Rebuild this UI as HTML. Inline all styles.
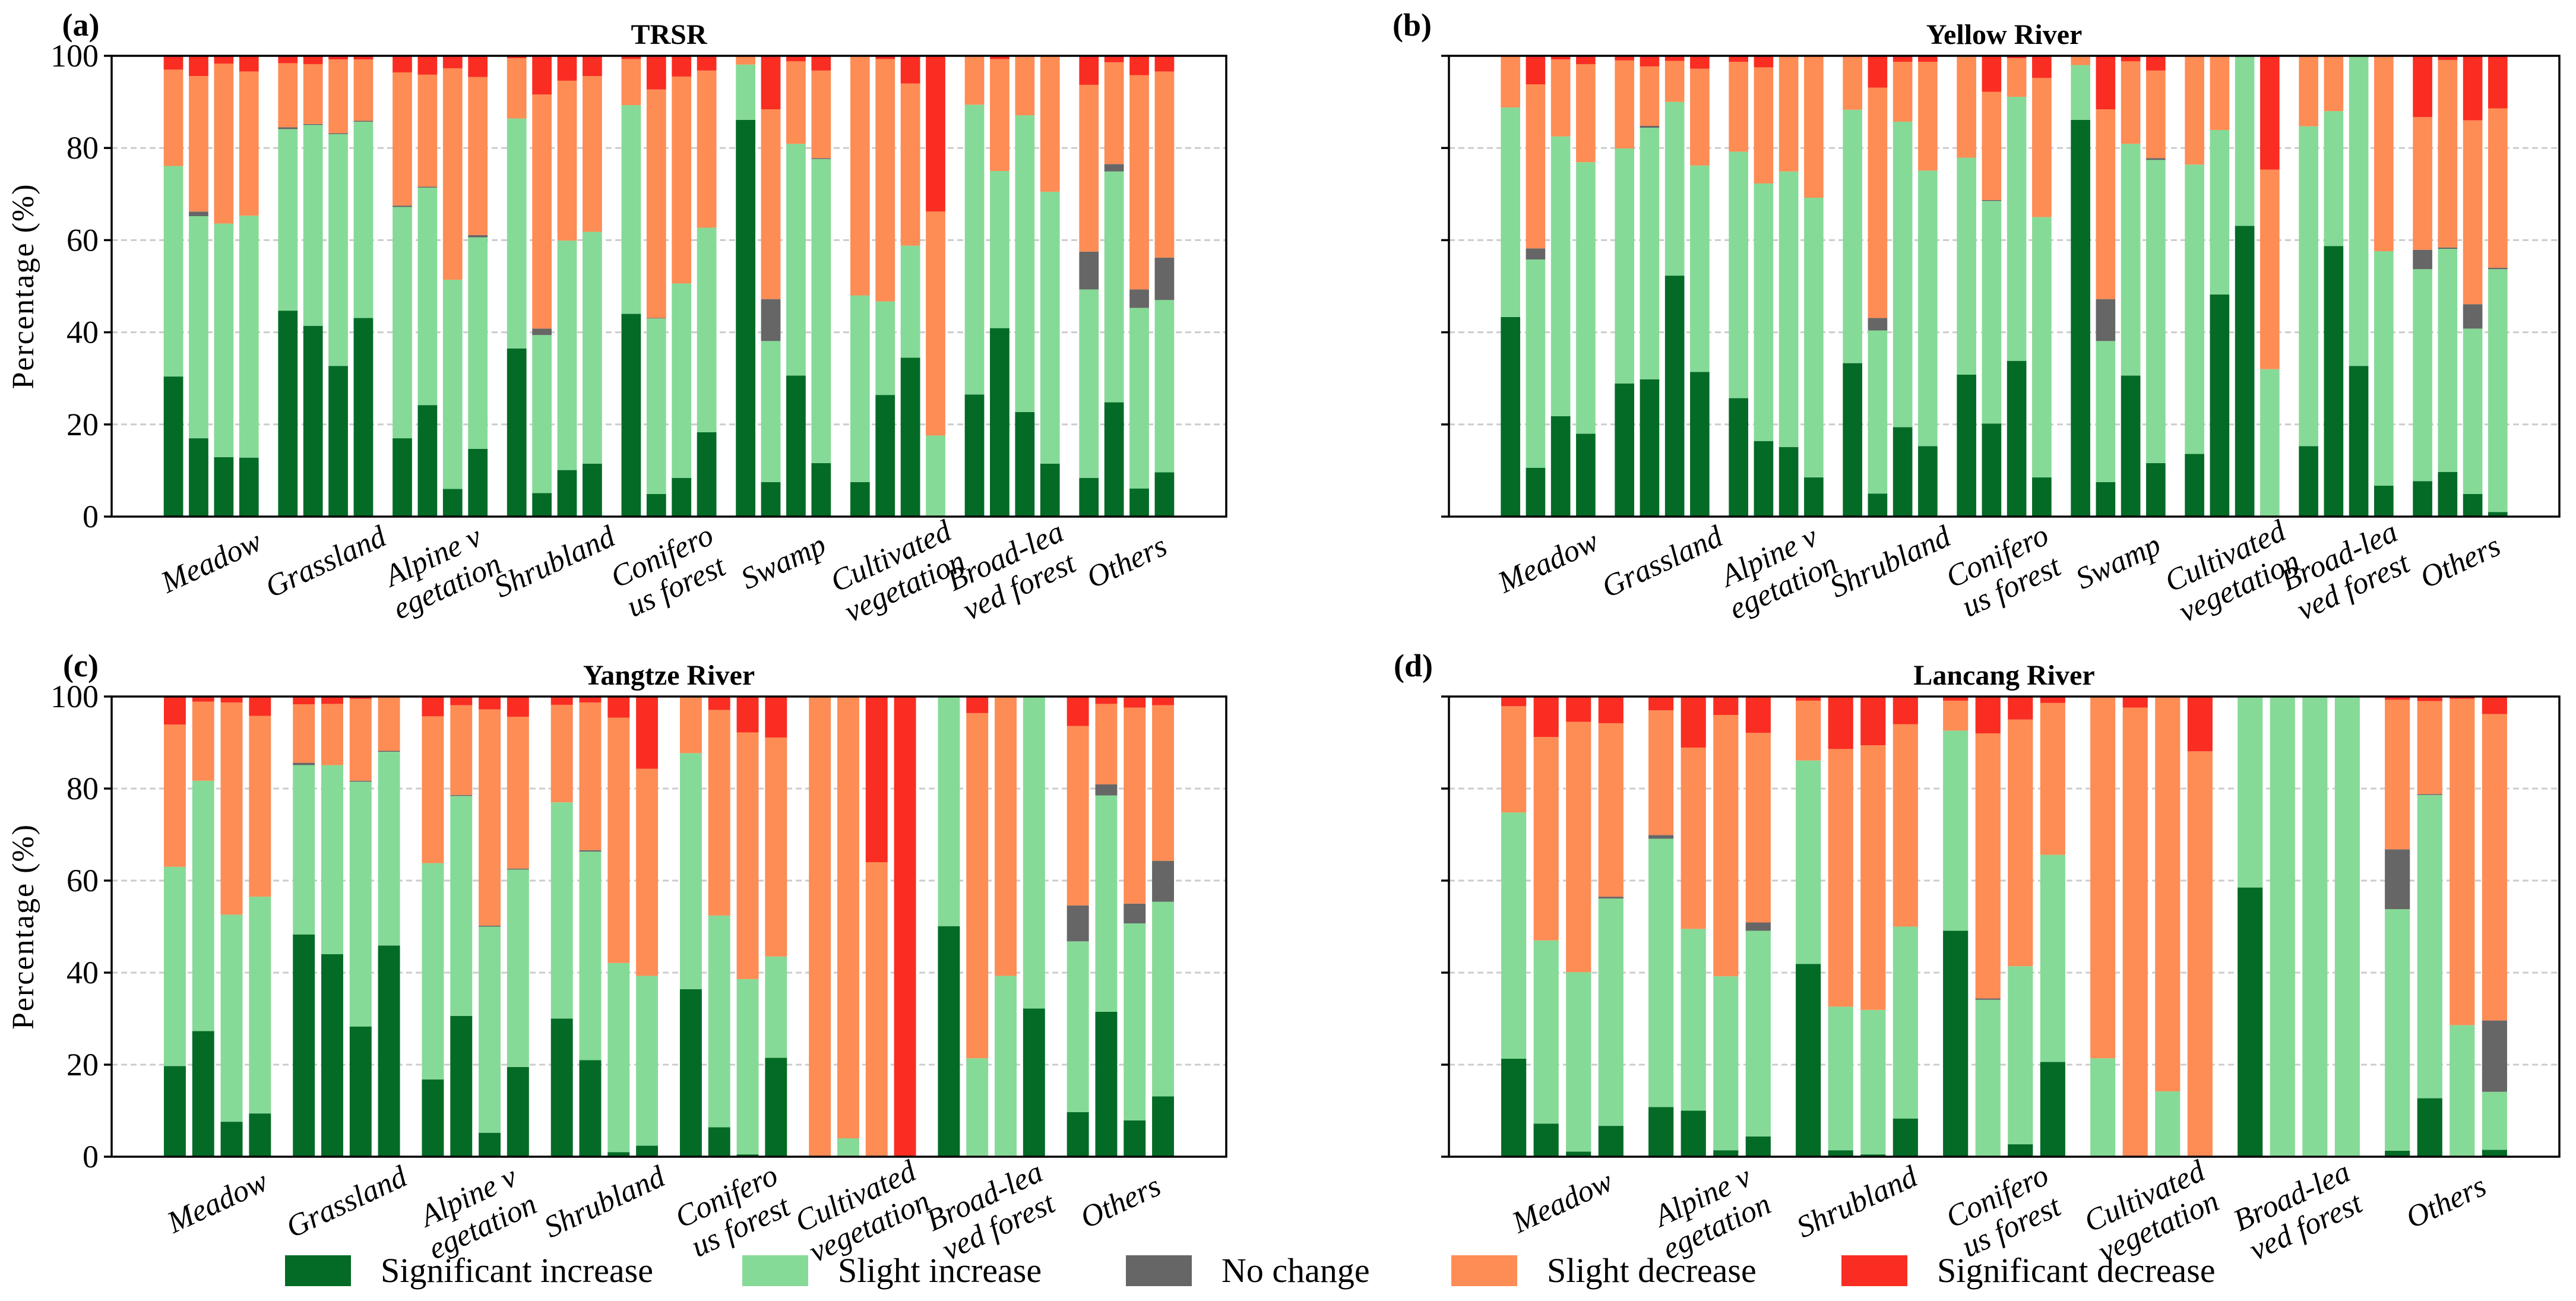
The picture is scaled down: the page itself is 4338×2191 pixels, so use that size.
<!DOCTYPE html>
<html><head><meta charset="utf-8">
<style>
html,body{margin:0;padding:0;background:#fff;}
svg{display:block;}
text{font-family:"Liberation Serif","Times New Roman","DejaVu Serif",serif;fill:#000;}
</style></head>
<body>
<svg id="fig" width="4338" height="2191" viewBox="0 0 4338 2191" xmlns="http://www.w3.org/2000/svg"></svg>
<script>
// ---------- data ----------
const catsA = ["Meadow","Grassland","Alpine v|egetation","Shrubland","Conifero|us forest","Swamp","Cultivated|vegetation","Broad-lea|ved forest","Others"];
const catsC = ["Meadow","Grassland","Alpine v|egetation","Shrubland","Conifero|us forest","Cultivated|vegetation","Broad-lea|ved forest","Others"];
const catsD = ["Meadow","Alpine v|egetation","Shrubland","Conifero|us forest","Cultivated|vegetation","Broad-lea|ved forest","Others"];
const seriesNames = ["Significant increase","Slight increase","No change","Slight decrease","Significant decrease"];
const seriesColors = ["#036B26","#86DA97","#666666","#FE8C55","#F92D22"];
const yTicks = [0,20,40,60,80,100];

// Panel (a) TRSR
const aSigInc = [30.4,17.0,12.9,12.8, 44.7,41.4,32.7,43.1, 17.0,24.2,6.0,14.7, 36.5,5.1,10.1,11.5, 44.0,4.9,8.4,18.3, 86.1,7.5,30.6,11.6, 7.5,26.4,34.5,0, 26.5,40.9,22.7,11.5, 8.4,24.8,6.1,9.6];
const aSliInc = [45.7,48.2,50.7,52.5, 39.4,43.6,50.3,42.6, 50.2,47.2,45.4,45.9, 49.9,34.3,49.8,50.3, 45.3,38.1,42.2,44.4, 12.0,30.6,50.3,66.0, 40.5,20.3,24.3,17.6, 62.9,34.1,64.4,59.0, 40.9,50.1,39.2,37.4];
const aNoChg  = [0,1.0,0,0, 0.4,0.2,0.2,0.2, 0.3,0.2,0,0.5, 0,1.4,0,0, 0,0.1,0,0, 0,9.1,0,0.2, 0,0,0,0, 0,0,0,0, 8.2,1.6,4.0,9.2];
const aSliDec = [20.9,29.4,34.7,31.3, 13.9,13.0,16.0,13.3, 28.9,24.3,45.9,34.3, 13.1,50.8,34.7,33.8, 10.0,49.6,44.9,34.1, 1.9,41.2,17.9,19.0, 52.0,52.6,35.2,48.6, 10.6,24.3,12.9,29.5, 36.2,22.1,46.5,40.4];
const aSigDec = [3.0,4.4,1.7,3.4, 1.6,1.8,0.8,0.8, 3.6,4.1,2.7,4.6, 0.5,8.4,5.4,4.4, 0.7,7.3,4.5,3.2, 0,11.6,1.2,3.2, 0,0.7,6.0,33.8, 0,0.7,0,0, 6.3,1.4,4.2,3.4];

// Panel (b) Yellow River
const bSigInc = [43.3,10.6,21.8,18.0, 28.9,29.8,52.3,31.4, 25.7,16.4,15.1,8.5, 33.3,5.0,19.4,15.3, 30.8,20.2,33.8,8.5, 86.1,7.5,30.6,11.6, 13.6,48.2,63.1,0, 15.3,58.7,32.7,6.7, 7.7,9.7,4.9,1.0];
const bSliInc = [45.5,45.2,60.7,58.9, 51.0,54.6,37.7,44.8, 53.5,55.9,59.8,60.7, 55.0,35.4,66.3,59.8, 47.1,48.3,57.3,56.5, 11.9,30.6,50.3,65.8, 62.8,35.7,36.9,32.0, 69.4,29.3,67.3,50.9, 46.0,48.4,35.9,52.7];
const bNoChg  = [0,2.4,0,0, 0,0.4,0,0, 0,0,0,0, 0,2.7,0,0, 0,0.2,0,0, 0,9.1,0,0.4, 0,0,0,0, 0,0,0,0, 4.2,0.3,5.3,0.3];
const bSliDec = [11.2,35.6,16.7,21.3, 19.1,12.9,8.9,21.0, 19.5,25.2,25.1,30.8, 11.7,50.0,13.0,23.6, 22.1,23.5,8.4,30.2, 2.0,41.2,17.9,19.0, 23.6,16.1,0,43.3, 15.3,12.0,0,42.4, 28.8,40.7,39.9,34.6];
const bSigDec = [0,6.2,0.8,1.8, 1.0,2.3,1.1,2.8, 1.3,2.5,0,0, 0,6.9,1.3,1.3, 0,7.8,0.5,4.8, 0,11.6,1.2,3.2, 0,0,0,24.7, 0,0,0,0, 13.3,0.9,14.0,11.4];

// Panel (c) Yangtze River
const cSigInc = [19.7,27.3,7.6,9.4, 48.3,44.0,28.3,45.9, 16.8,30.6,5.2,19.5, 30.0,21.0,1.0,2.4, 36.4,6.4,0.5,21.5, 0,0,0,0, 50.1,0,0,32.2, 9.7,31.5,7.9,13.1];
const cSliInc = [43.3,54.4,45.0,47.1, 36.8,41.1,53.2,42.1, 47.0,47.8,44.8,42.9, 47.0,45.3,41.1,36.9, 51.3,46.0,38.1,22.0, 0,4.0,0,0, 49.9,21.4,39.3,67.8, 37.1,47.0,42.8,42.3];
const cNoChg  = [0,0,0,0, 0.5,0,0.2,0.2, 0,0.2,0.2,0.2, 0,0.3,0,0, 0,0,0,0, 0,0,0,0, 0,0,0,0, 7.8,2.4,4.3,8.9];
const cSliDec = [30.9,17.2,46.1,39.3, 12.7,13.3,17.8,11.8, 31.9,19.5,47.0,33.0, 21.2,32.1,53.3,45.0, 12.3,44.7,53.6,47.6, 100,96.0,64.0,0, 0,75.0,60.7,0, 39.0,17.5,42.6,33.8];
const cSigDec = [6.1,1.1,1.3,4.2, 1.7,1.6,0.5,0, 4.3,1.9,2.8,4.4, 1.8,1.3,4.6,15.7, 0,2.9,7.8,8.9, 0,0,36.0,100, 0,3.6,0,0, 6.4,1.6,2.4,1.9];

// Panel (d) Lancang River
const dSigInc = [21.3,7.2,1.1,6.7, 10.8,10.0,1.4,4.4, 41.9,1.4,0.5,8.3, 49.1,0,2.7,20.6, 0,0,0,0, 58.5,0,0,0, 1.3,12.7,0.2,1.5];
const dSliInc = [53.5,39.8,39.0,49.4, 58.3,39.5,37.8,44.7, 44.2,31.2,31.4,41.7, 43.5,34.1,38.7,45.0, 21.4,0,14.2,0, 41.5,100,100,100, 52.5,65.9,28.4,12.6];
const dNoChg  = [0,0,0,0.4, 0.8,0,0,1.8, 0,0,0,0, 0,0.3,0,0, 0,0,0,0, 0,0,0,0, 13.0,0.2,0,15.5];
const dSliDec = [23.1,44.2,54.4,37.7, 27.1,39.4,56.8,41.2, 13.0,56.0,57.5,44.0, 6.5,57.6,53.6,33.0, 78.6,97.6,85.8,88.1, 0,0,0,0, 32.5,20.2,70.9,66.6];
const dSigDec = [2.1,8.8,5.5,5.8, 3.0,11.1,4.0,7.9, 0.9,11.4,10.6,6.0, 0.9,8.0,5.0,1.4, 0,2.4,0,11.9, 0,0,0,0, 0.7,1.0,0.5,3.8];

// ---------- layout ----------
const NS = "http://www.w3.org/2000/svg";
const svg = document.getElementById("fig");
function mk(tag, attrs, parent){
  const e = document.createElementNS(NS, tag);
  for (const k in attrs) e.setAttribute(k, attrs[k]);
  (parent||svg).appendChild(e);
  return e;
}
const panels = [
  {id:"a", title:"TRSR", cats:catsA, series:[aSigInc,aSliInc,aNoChg,aSliDec,aSigDec], L:188, R:2065, T:94, B:870, x0:-0.87, yl:true, lx:136},
  {id:"b", title:"Yellow River", cats:catsA, series:[bSigInc,bSliInc,bNoChg,bSliDec,bSigDec], L:2440, R:4310, T:94, B:870, x0:-0.87, yl:false, lx:2378},
  {id:"c", title:"Yangtze River", cats:catsC, series:[cSigInc,cSliInc,cNoChg,cSliDec,cSigDec], L:188, R:2065, T:1173, B:1948, x0:-0.82, yl:true, lx:136},
  {id:"d", title:"Lancang River", cats:catsD, series:[dSigInc,dSliInc,dNoChg,dSliDec,dSigDec], L:2440, R:4310, T:1173, B:1948, x0:-0.77, yl:false, lx:2380}
];

panels.forEach(p => {
  const n = p.cats.length;
  const x1 = (n - 1) - p.x0;
  const xs = v => p.L + (v - p.x0) / (x1 - p.x0) * (p.R - p.L);
  const ys = v => p.B - v / 100 * (p.B - p.T);
  const g = mk("g", {});
  
  

  yTicks.forEach(t => {
    if (t > 0 && t < 100) {
      const gl = mk("line", {x1:p.L, x2:p.R, y1:ys(t), y2:ys(t), stroke:"#cccccc", "stroke-width":3, "stroke-dasharray":"10,6"}, g);
      
      
    }
  });

  for (let gi = 0; gi < n; gi++) {
    for (let k = 0; k < 4; k++) {
      const idx = gi * 4 + k;
      const cx = gi + (k - 1.5) * 0.22;
      const xl = xs(cx - 0.085), xr = xs(cx + 0.085);
      let base = 0;
      for (let s = 0; s < 5; s++) {
        const v = p.series[s][idx];
        if (v > 0) {
          const r = mk("rect", {x:xl, y:ys(base + v), width:xr - xl, height:ys(base) - ys(base + v), fill:seriesColors[s]}, g);
          
          
        }
        base += v;
      }
    }
    const parts = p.cats[gi].split("|");
    const cxg = xs(gi);
    const cyg = p.B + (parts.length > 1 ? 92 : 76);
    const t = mk("text", {x:cxg, y:cyg, "text-anchor":"middle", "font-size":52, "font-style":"italic",
      transform:"rotate(-25 " + cxg + " " + cyg + ")"}, g);
    
    
    const lh = 56;
    const startDy = -(parts.length - 1) * lh / 2 + 17;
    parts.forEach((s, i) => {
      const ts = mk("tspan", {x:cxg, dy: i === 0 ? startDy : lh}, t);
      ts.textContent = s;
    });
  }

  const frame = mk("rect", {x:p.L, y:p.T, width:p.R - p.L, height:p.B - p.T, fill:"none", stroke:"#000", "stroke-width":3.5}, g);
  
  

  yTicks.forEach(t => {
    const tk = mk("line", {x1:p.L - 13, x2:p.L, y1:ys(t), y2:ys(t), stroke:"#000", "stroke-width":3.5}, g);
    
    
    if (p.yl) {
      const tl = mk("text", {x:p.L - 22, y:ys(t) + 18, "text-anchor":"end", "font-size":54}, g);
      
      
      tl.textContent = t;
    }
  });

  if (p.yl) {
    const cy = (p.T + p.B) / 2;
    const yl = mk("text", {x:40, y:cy, "text-anchor":"middle", "font-size":52, "letter-spacing":"2",
      transform:"rotate(-90 40 " + cy + ")", dy:16}, g);
    
    
    yl.textContent = "Percentage (%)";
  }

  const tt = mk("text", {x:(p.L + p.R) / 2, y:p.T - 20, "text-anchor":"middle", "font-size":48, "font-weight":"bold"}, g);
  
  
  tt.textContent = p.title;

  const pl = mk("text", {x:p.lx, y:p.T - 34, "text-anchor":"middle", "font-size":54, "font-weight":"bold"}, g);
  
  
  pl.textContent = "(" + p.id + ")";
});

const legRectX = [480, 1250, 1896, 2444, 3101];
const lg = mk("g", {});


seriesNames.forEach((nm, i) => {
  const r = mk("rect", {x:legRectX[i], y:2114, width:111, height:52, fill:seriesColors[i]}, lg);
  
  
  const t = mk("text", {x:legRectX[i] + 161, y:2159, "font-size":58}, lg);
  
  
  t.textContent = nm;
});
</script>
</body></html>
